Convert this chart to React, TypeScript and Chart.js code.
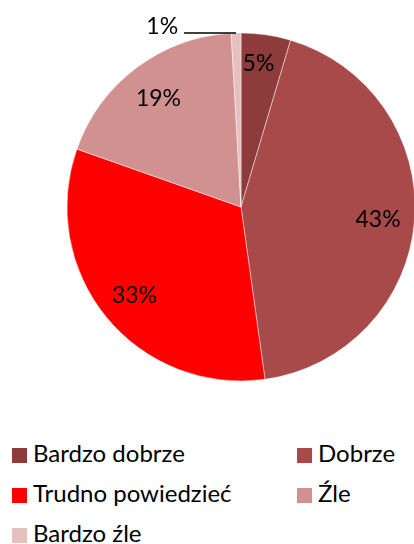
import React, { useEffect, useRef } from "react";
import { Chart, registerables } from "chart.js";

Chart.register(...registerables);

const categories = ["Bardzo dobrze", "Dobrze", "Trudno powiedzieć", "Źle", "Bardzo źle"];
const values = [4.6, 43.2, 32.6, 18.7, 0.9];
const colors = ["#8E3B3B", "#A84A4A", "#FF0000", "#D09190", "#E6BFBF"];

const FONT = "Lato, 'Liberation Sans', sans-serif";

const labelPlugin = {
  id: "pctLabels",
  afterDatasetsDraw(chart: any) {
    const ctx = chart.ctx;
    const meta = chart.getDatasetMeta(0);
    const data = chart.data.datasets[0].data as number[];
    const total = data.reduce((a, b) => a + b, 0);
    ctx.save();
    ctx.fillStyle = "#000";
    ctx.font = `23px ${FONT}`;
    meta.data.forEach((arc: any, i: number) => {
      const { x, y, startAngle, endAngle, outerRadius } = arc.getProps(
        ["x", "y", "startAngle", "endAngle", "outerRadius"],
        true
      );
      const mid = (startAngle + endAngle) / 2;
      const frac = data[i] / total;
      const pct = Math.round(frac * 100) + "%";
      if (frac < 0.02) {
        const px = x + Math.cos(mid) * outerRadius;
        const py = y + Math.sin(mid) * outerRadius;
        ctx.strokeStyle = "#000";
        ctx.lineWidth = 1.5;
        ctx.beginPath();
        ctx.moveTo(px, py);
        ctx.lineTo(px - 52, py);
        ctx.stroke();
        ctx.textAlign = "right";
        ctx.textBaseline = "alphabetic";
        ctx.fillText(pct, px - 58, py + 1);
      } else {
        const r = outerRadius * (frac < 0.1 ? 0.84 : 0.79);
        const a = frac < 0.1 ? mid - 0.025 : mid;
        ctx.textAlign = "center";
        ctx.textBaseline = "middle";
        ctx.fillText(pct, x + Math.cos(a) * r, y + Math.sin(a) * r + 2);
      }
    });
    ctx.restore();
  },
};

export default function App() {
  const ref = useRef<HTMLCanvasElement>(null);
  useEffect(() => {
    if (!ref.current) return;
    const chart = new Chart(ref.current, {
      type: "pie",
      data: {
        labels: categories,
        datasets: [
          {
            data: values,
            backgroundColor: colors,
            borderColor: "rgba(255,255,255,0.6)",
            borderWidth: 0.75,
          },
        ],
      },
      options: {
        responsive: false,
        animation: false,
        radius: 174,
        layout: { padding: { left: 68, right: 0, top: 0, bottom: 0 } },
        plugins: {
          legend: { display: false },
          tooltip: { enabled: false },
        },
      },
      plugins: [labelPlugin],
    });
    return () => chart.destroy();
  }, []);

  const legendPos = [
    { x: 12, y: 448 },
    { x: 297, y: 448 },
    { x: 12, y: 488 },
    { x: 297, y: 488 },
    { x: 12, y: 528 },
  ];

  return (
    <div
      style={{
        position: "fixed",
        left: 0,
        top: 0,
        width: 414,
        height: 544,
        background: "#fff",
        overflow: "hidden",
      }}
    >
      <canvas ref={ref} width={414} height={414} style={{ position: "absolute", left: 0, top: 0 }} />
      {categories.map((c, i) => (
        <div key={c}>
          <div
            style={{
              position: "absolute",
              left: legendPos[i].x,
              top: legendPos[i].y,
              width: 15,
              height: 14.5,
              background: colors[i],
            }}
          />
          <span
            style={{
              position: "absolute",
              left: legendPos[i].x + 21,
              top: legendPos[i].y - 8.7,
              fontFamily: FONT,
              fontSize: 24,
              lineHeight: "28.8px",
              color: "#000",
              whiteSpace: "nowrap",
            }}
          >
            {c}
          </span>
        </div>
      ))}
    </div>
  );
}
